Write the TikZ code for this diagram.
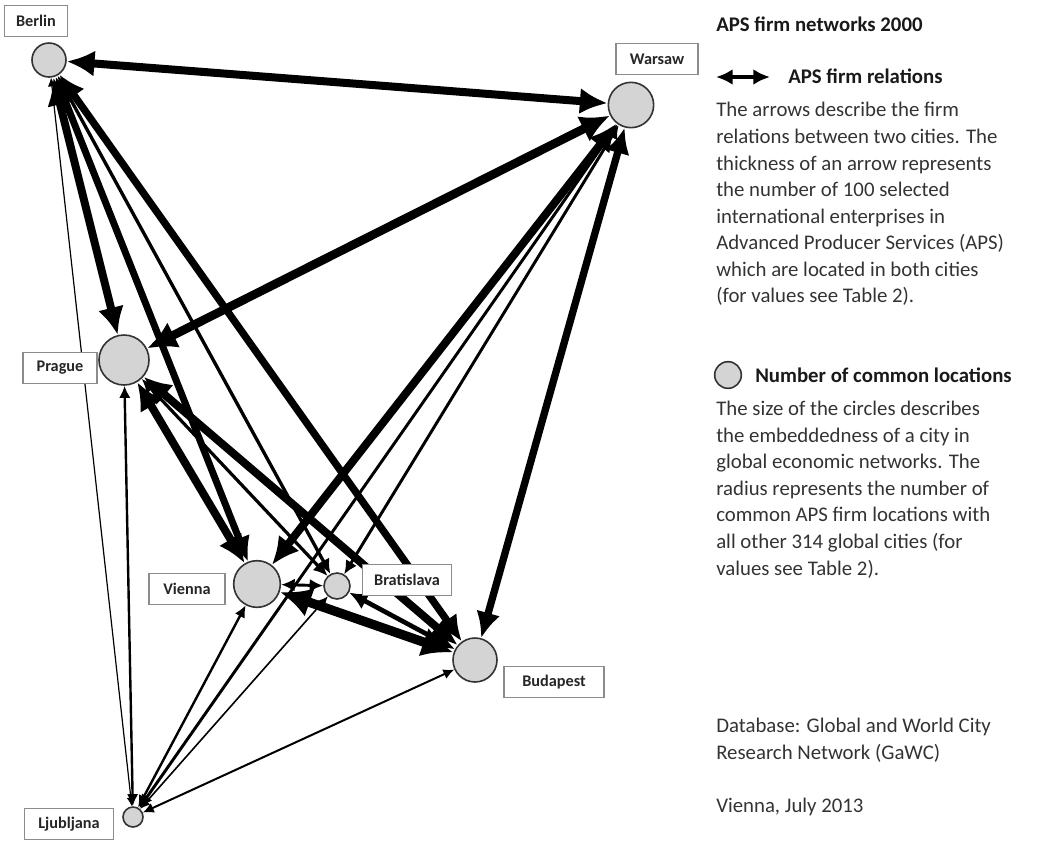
\documentclass[tikz,border=0pt]{standalone}
\usepackage{fontspec}
\setmainfont{Carlito}
\usepackage{tikz}
\usetikzlibrary{arrows.meta}

\tikzset{
  city/.style={circle,draw=black!80,fill=black!17,line width=1.2pt,inner sep=0pt,minimum size=#1},
  citylabel/.style={draw=black!45,fill=white,line width=0.8pt,inner sep=0pt,minimum height=23pt,minimum width=#1,font=\fontsize{12.2}{14}\selectfont\bfseries,text=black!85},
  rel/.style={line width=#1,<->},
  legtext/.style={anchor=base west,align=left,inner sep=0pt,font=\fontsize{15.6}{19.9}\selectfont,text=black!80},
  leghead/.style={anchor=base west,inner sep=0pt,font=\fontsize{15.6}{19.9}\selectfont\bfseries,text=black!90},
}

\begin{document}
\begin{tikzpicture}[x=0.75pt,y=-0.75pt,>={Latex[length=4pt 2.8,width'=0pt 0.95]}]
    \useasboundingbox (0,0) rectangle (1038,840);

    \node[city=25.5pt] (berlin) at (49,60) {};
    \node[city=34pt] (warsaw) at (631,105) {};
    \node[city=37.5pt] (prague) at (124,360) {};
    \node[city=35pt] (vienna) at (257,584) {};
    \node[city=19.5pt] (bratislava) at (337,586) {};
    \node[city=33pt] (budapest) at (475,660) {};
    \node[city=15pt] (ljubljana) at (133,817) {};

    \draw[rel=6pt] (berlin) -- (warsaw);
    \draw[rel=6pt] (berlin) -- (prague);
    \draw[rel=5.2pt] (berlin) -- (vienna);
    \draw[rel=2.5pt] (berlin) -- (bratislava);
    \draw[rel=5.5pt] (berlin) -- (budapest);
    \draw[rel=0.9pt] (berlin) -- (ljubljana);

    \draw[rel=6.5pt] (warsaw) -- (prague);
    \draw[rel=6pt] (warsaw) -- (vienna);
    \draw[rel=2.2pt] (warsaw) -- (bratislava);
    \draw[rel=2.2pt] (warsaw) -- (ljubljana);
    \draw[rel=5.5pt] (warsaw) -- (budapest);

    \draw[rel=6pt] (prague) -- (vienna);
    \draw[rel=2.4pt] (prague) -- (bratislava);
    \draw[rel=6pt] (prague) -- (budapest);
    \draw[rel=1.8pt] (prague) -- (ljubljana);

    \draw[rel=2.2pt] (vienna) -- (bratislava);
    \draw[rel=7pt] (vienna) -- (budapest);
    \draw[rel=1.8pt] (vienna) -- (ljubljana);
    \draw[rel=3.5pt] (bratislava) -- (budapest);
    \draw[rel=1.2pt] (bratislava) -- (ljubljana);
    \draw[rel=1.5pt] (budapest) -- (ljubljana);

    \node[citylabel=47pt] (berlinlbl) at (36,21) {Berlin};
    \node[citylabel=61.5pt] (warsawlbl) at (657,59) {Warsaw};
    \node[citylabel=55.5pt] (praguelbl) at (60,368) {Prague};
    \node[citylabel=57pt] (viennalbl) at (187,589) {Vienna};
    \node[citylabel=67pt] (bratislavalbl) at (407,580) {Bratislava};
    \node[citylabel=75pt] (budapestlbl) at (554,682) {Budapest};
    \node[citylabel=67pt] (ljubljanalbl) at (69,824) {Ljubljana};

    \node[leghead] (title) at (716,31) {APS firm networks 2000};
    \coordinate (legA) at (716,77);
    \coordinate (legB) at (770,77);
    \draw[rel=3pt] (legA) -- (legB);
    \node[leghead] (relhead) at (788,83) {APS firm relations};
    \node[legtext] (reltext) at (716,302.7) {The arrows describe the firm\\relations between two cities. The\\thickness of an arrow represents\\the number of 100 selected\\international enterprises in\\Advanced Producer Services (APS)\\which are located in both cities\\(for values see Table 2).};

    \node[city=20pt] (legcircle) at (728,375) {};
    \node[leghead] (cityhead) at (755,382) {Number of common locations};
    \node[legtext] (citytext) at (716,575) {The size of the circles describes\\the embeddedness of a city in\\global economic networks. The\\radius represents the number of\\common APS firm locations with\\all other 314 global cities (for\\values see Table 2).};

    \node[legtext] (source) at (716,759.5) {Database: Global and World City\\Research Network (GaWC)};
    \node[legtext] (place) at (716,812) {Vienna, July 2013};
\end{tikzpicture}
\end{document}
